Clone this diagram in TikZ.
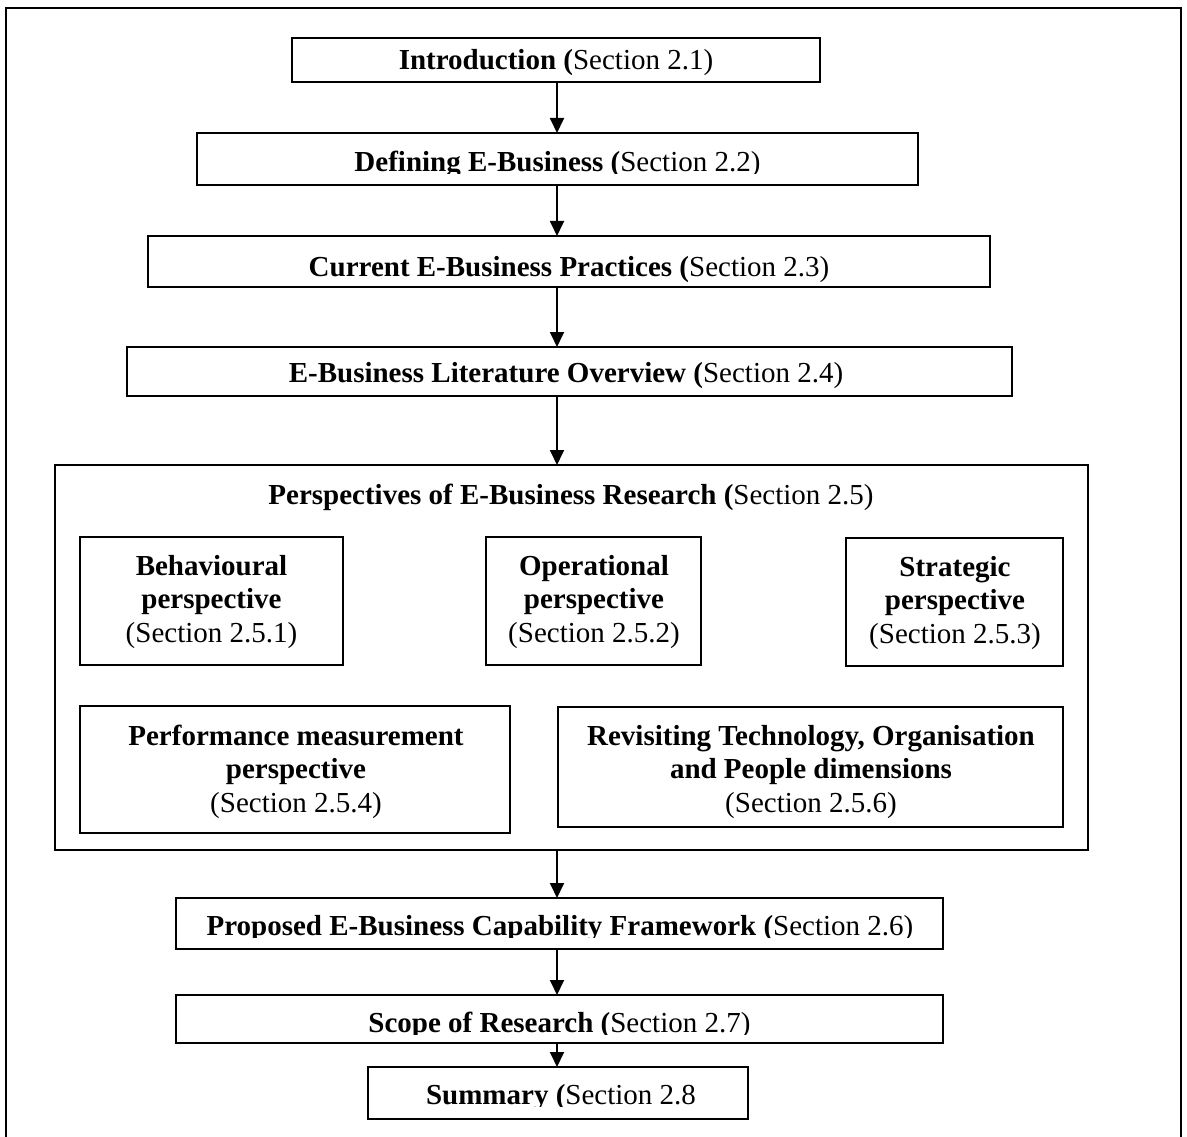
\documentclass[tikz,border=0pt]{standalone}
\usepackage{fontspec}
\setmainfont{Liberation Serif}
\usetikzlibrary{arrows.meta}

% centred stack of lines whose reference point is the first baseline
\newcommand\boxlines[1]{\begin{tabular}[t]{@{}c@{}}#1\end{tabular}}

\tikzset{
  stepbox/.style={draw, line width=2pt, rectangle, inner sep=0pt, outer sep=0pt},
  lbl/.style={inner sep=0pt, outer sep=0pt, anchor=base},
  arr/.style={line width=1.8pt, -{Triangle[length=15pt,width=14pt]}},
  frame/.style={line width=2pt},
}

\begin{document}
\begin{tikzpicture}[x=1pt, y=-1pt, font=\fontsize{29}{33.5}\selectfont]
  \useasboundingbox (0,0) rectangle (1187,1137);
  \clip (0,0) rectangle (1187,1137);

  % page frame, open at the bottom
  \draw[frame] (6,1145) -- (6,8) -- (1181,8) -- (1181,1145);

  % vertical axis shared by the connectors
  \coordinate (axis) at (557,0);

  % ---- chain of section boxes ----
  \node[stepbox, minimum width=528pt, minimum height=44pt] (intro) at (556,60) {};
  \node[lbl] (intro-t) at (556,70) {\textbf{Introduction (}Section 2.1)};

  \node[stepbox, minimum width=721pt, minimum height=52pt] (def) at (557.5,159) {};
  \begin{scope}
    \clip (197,133) rectangle (918,174);
    \node[lbl] (def-t) at (557.5,172) {\textbf{Defining E-Business (}Section 2.2)};
  \end{scope}

  \node[stepbox, minimum width=842pt, minimum height=51pt] (cur) at (569,261.5) {};
  \node[lbl] (cur-t) at (569,276) {\textbf{Current E-Business Practices (}Section 2.3)};

  \node[stepbox, minimum width=885pt, minimum height=49pt] (lit) at (569.5,371.5) {};
  \node[lbl] (lit-t) at (566,382) {\textbf{E-Business Literature Overview (}Section 2.4)};

  % ---- perspectives group ----
  \node[stepbox, minimum width=1033pt, minimum height=385pt] (persp) at (571.5,657.5) {};
  \node[lbl] (persp-t) at (571,504) {\textbf{Perspectives of E-Business Research (}Section 2.5)};

  \node[stepbox, minimum width=263pt, minimum height=128pt] (beh) at (211.5,601) {};
  \node[lbl] (beh-t) at (211.5,575) {\boxlines{\textbf{Behavioural}\\\textbf{perspective}\\(Section 2.5.1)}};

  \node[stepbox, minimum width=215pt, minimum height=128pt] (ope) at (593.5,601) {};
  \node[lbl] (ope-t) at (594,575) {\boxlines{\textbf{Operational}\\\textbf{perspective}\\(Section 2.5.2)}};

  \node[stepbox, minimum width=217pt, minimum height=128pt] (str) at (954.5,602) {};
  \node[lbl] (str-t) at (955,576) {\boxlines{\textbf{Strategic}\\\textbf{perspective}\\(Section 2.5.3)}};

  \node[stepbox, minimum width=430pt, minimum height=127pt] (perf) at (295,769.5) {};
  \node[lbl] (perf-t) at (296,745) {\boxlines{\textbf{Performance measurement}\\\textbf{perspective}\\(Section 2.5.4)}};

  \node[stepbox, minimum width=505pt, minimum height=120pt] (rev) at (810.5,767) {};
  \node[lbl] (rev-t) at (811,745) {\boxlines{\textbf{Revisiting Technology, Organisation}\\\textbf{and People dimensions}\\(Section 2.5.6)}};

  % ---- closing boxes ----
  \node[stepbox, minimum width=767pt, minimum height=51pt] (prop) at (559.5,923.5) {};
  \begin{scope}
    \clip (176,898) rectangle (943,937);
    \node[lbl] (prop-t) at (560,935) {\textbf{Proposed E-Business Capability Framework (}Section 2.6)};
  \end{scope}

  \node[stepbox, minimum width=767pt, minimum height=48pt] (scope) at (559.5,1019) {};
  \begin{scope}
    \clip (176,995) rectangle (943,1034);
    \node[lbl] (scope-t) at (559.5,1032) {\textbf{Scope of Research (}Section 2.7)};
  \end{scope}

  \node[stepbox, minimum width=380pt, minimum height=52pt] (summ) at (558,1093) {};
  \begin{scope}
    \clip (368,1067) rectangle (748,1106);
    \node[lbl] (summ-t) at (561,1104) {\textbf{Summary (}Section 2.8};
  \end{scope}

  % ---- connectors ----
  \draw[arr] (intro.south -| axis) -- (def.north -| axis);
  \draw[arr] (def.south -| axis) -- (cur.north -| axis);
  \draw[arr] (cur.south -| axis) -- (lit.north -| axis);
  \draw[arr] (lit.south -| axis) -- (persp.north -| axis);
  \draw[arr] (persp.south -| axis) -- (prop.north -| axis);
  \draw[arr] (prop.south -| axis) -- (scope.north -| axis);
  \draw[arr] (scope.south -| axis) -- (summ.north -| axis);
\end{tikzpicture}
\end{document}
